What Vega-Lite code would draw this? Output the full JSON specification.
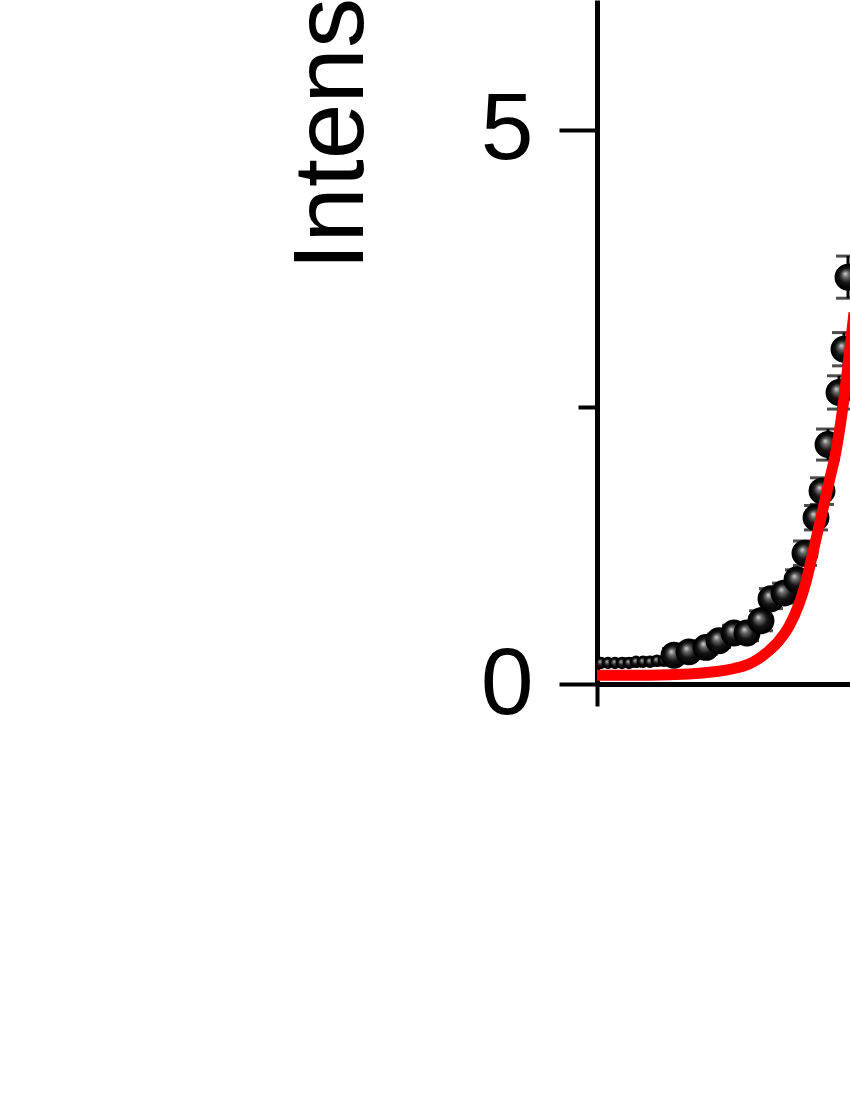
{
  "$schema": "https://vega.github.io/schema/vega-lite/v6.json",
  "width": 253,
  "height": 684,
  "autosize": {"type": "none"},
  "padding": {"left": 597, "top": 0, "right": 0, "bottom": 416},
  "background": "white",
  "config": {
    "view": {"stroke": null},
    "axis": {"grid": false, "domainColor": "#000", "tickColor": "#000", "labelColor": "#000", "titleColor": "#000", "labelFont": "Liberation Sans", "titleFont": "Liberation Sans"}
  },
  "datasets": {
    "pts": [
      {"t": 0.4, "v": 0.19, "lo": 0.16, "hi": 0.22},
      {"t": 1.1, "v": 0.19, "lo": 0.16, "hi": 0.22},
      {"t": 1.8, "v": 0.19, "lo": 0.16, "hi": 0.22},
      {"t": 2.5, "v": 0.19, "lo": 0.16, "hi": 0.22},
      {"t": 3.2, "v": 0.19, "lo": 0.16, "hi": 0.22},
      {"t": 3.9, "v": 0.2, "lo": 0.17, "hi": 0.23},
      {"t": 4.6, "v": 0.2, "lo": 0.17, "hi": 0.23},
      {"t": 5.3, "v": 0.2, "lo": 0.17, "hi": 0.23},
      {"t": 6.0, "v": 0.21, "lo": 0.18, "hi": 0.24},
      {"t": 6.7, "v": 0.21, "lo": 0.18, "hi": 0.24},
      {"t": 7.7, "v": 0.26, "lo": 0.2, "hi": 0.32},
      {"t": 9.2, "v": 0.29, "lo": 0.23, "hi": 0.35},
      {"t": 10.9, "v": 0.33, "lo": 0.27, "hi": 0.39},
      {"t": 12.2, "v": 0.39, "lo": 0.33, "hi": 0.45},
      {"t": 13.7, "v": 0.46, "lo": 0.39, "hi": 0.53},
      {"t": 15.0, "v": 0.46, "lo": 0.39, "hi": 0.53},
      {"t": 16.4, "v": 0.57, "lo": 0.48, "hi": 0.66},
      {"t": 17.4, "v": 0.77, "lo": 0.68, "hi": 0.86},
      {"t": 18.7, "v": 0.82, "lo": 0.73, "hi": 0.91},
      {"t": 20.0, "v": 0.94, "lo": 0.85, "hi": 1.03},
      {"t": 20.8, "v": 1.18, "lo": 1.07, "hi": 1.29},
      {"t": 21.9, "v": 1.5, "lo": 1.39, "hi": 1.61},
      {"t": 22.5, "v": 1.74, "lo": 1.62, "hi": 1.86},
      {"t": 23.1, "v": 2.16, "lo": 2.02, "hi": 2.3},
      {"t": 24.2, "v": 2.63, "lo": 2.48, "hi": 2.78},
      {"t": 24.7, "v": 3.02, "lo": 2.87, "hi": 3.17},
      {"t": 25.1, "v": 3.67, "lo": 3.48, "hi": 3.86}
    ],
    "fit": [
      {"t": 0, "v": 0.08},
      {"t": 5.2, "v": 0.08},
      {"t": 9.2, "v": 0.09},
      {"t": 11.7, "v": 0.11},
      {"t": 13.7, "v": 0.14},
      {"t": 15.2, "v": 0.18},
      {"t": 16.2, "v": 0.23},
      {"t": 17.2, "v": 0.3},
      {"t": 18.2, "v": 0.39},
      {"t": 19.2, "v": 0.52},
      {"t": 20.2, "v": 0.72},
      {"t": 20.9, "v": 0.92},
      {"t": 21.7, "v": 1.23},
      {"t": 22.5, "v": 1.54},
      {"t": 23.2, "v": 1.82},
      {"t": 23.9, "v": 2.1},
      {"t": 24.5, "v": 2.44},
      {"t": 25.2, "v": 2.95},
      {"t": 25.7, "v": 3.35}
    ]
  },
  "resolve": {"axis": {"y": "independent"}},
  "layer": [
    {
      "data": {"name": "pts"},
      "mark": {"type": "rule", "stroke": "#000", "strokeWidth": 3, "clip": true},
      "encoding": {
        "x": {"field": "t", "type": "quantitative", "scale": {"domain": [0, 25.3], "nice": false, "zero": false},
          "axis": {"values": [0], "tickSize": 22, "tickWidth": 4, "domainWidth": 5, "labels": false, "title": null}},
        "y": {"field": "lo", "type": "quantitative", "scale": {"domain": [0, 6.17], "nice": false},
          "axis": {"orient": "left", "values": [0, 5], "tickSize": 38, "tickWidth": 4, "domainWidth": 5,
            "labelFontSize": 95, "labelPadding": 26, "format": "d",
            "title": "Intensity (a.u.)", "titleFontSize": 100, "titleFontWeight": "normal", "titleAngle": -90,
            "titleAlign": "left", "titleBaseline": "alphabetic", "titleX": -235, "titleY": 270}},
        "y2": {"field": "hi"}
      }
    },
    {
      "data": {"name": "pts"},
      "mark": {"type": "tick", "orient": "horizontal", "color": "#000", "size": 24, "thickness": 3, "clip": true},
      "encoding": {
        "x": {"field": "t", "type": "quantitative"},
        "y": {"field": "hi", "type": "quantitative",
          "axis": {"orient": "left", "values": [2.5], "tickSize": 19, "tickWidth": 4, "domain": false, "labels": false, "title": null}}
      }
    },
    {
      "data": {"name": "pts"},
      "mark": {"type": "tick", "orient": "horizontal", "color": "#000", "size": 24, "thickness": 3, "clip": true},
      "encoding": {
        "x": {"field": "t", "type": "quantitative"},
        "y": {"field": "lo", "type": "quantitative", "axis": null}
      }
    },
    {
      "data": {"name": "pts"},
      "mark": {"type": "point", "shape": "circle", "filled": true, "opacity": 1, "stroke": "#000", "strokeWidth": 2, "clip": true,
        "fill": {"gradient": "radial", "x1": 0.38, "y1": 0.35, "r1": 0, "x2": 0.5, "y2": 0.5, "r2": 0.5,
          "stops": [{"offset": 0, "color": "#d8d8d8"}, {"offset": 0.25, "color": "#6a6a6a"}, {"offset": 0.6, "color": "#141414"}, {"offset": 1, "color": "#000000"}]}},
      "encoding": {
        "x": {"field": "t", "type": "quantitative"},
        "y": {"field": "v", "type": "quantitative", "axis": null},
        "size": {"field": "v", "type": "quantitative", "scale": {"type": "threshold", "domain": [0.24], "range": [110, 620]}, "legend": null}
      }
    },
    {
      "data": {"name": "fit"},
      "mark": {"type": "line", "color": "#ff0000", "strokeWidth": 11, "interpolate": "monotone", "clip": true},
      "encoding": {
        "x": {"field": "t", "type": "quantitative"},
        "y": {"field": "v", "type": "quantitative", "axis": null}
      }
    }
  ]
}
